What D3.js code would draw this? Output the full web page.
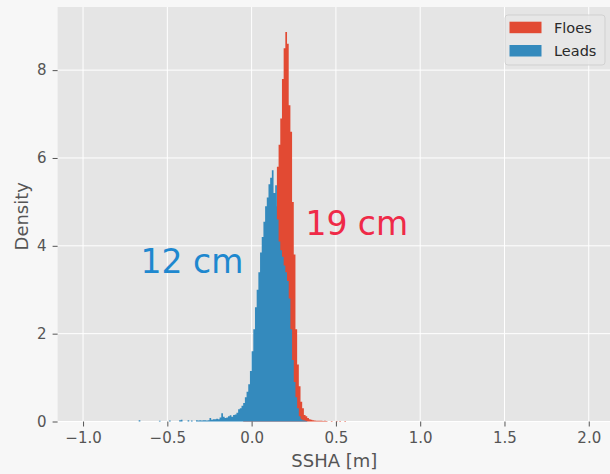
<!DOCTYPE html>
<html>
<head>
<meta charset="utf-8">
<script src="https://cdn.jsdelivr.net/npm/d3@7"></script>
<style>
  html, body { margin: 0; padding: 0; background: #f7f7f7; }
  svg { display: block; }
  text { font-family: "DejaVu Sans", sans-serif; }
</style>
</head>
<body>
<svg id="chart" width="610" height="474"></svg>
<script>
// ---- data (histogram densities, bin width 0.01 m) ----
const binWidth = 0.01;
const seriesNames = ["Floes", "Leads"];
const seriesColors = ["#E24A33", "#348ABD"];

const floesBins = [-0.05,-0.04,-0.03,-0.02,-0.01,
  0.00,0.01,0.02,0.03,0.04,0.05,0.06,0.07,0.08,0.09,
  0.10,0.11,0.12,0.13,0.14,0.15,0.16,0.17,0.18,0.19,
  0.20,0.21,0.22,0.23,0.24,0.25,0.26,0.27,0.28,0.29,
  0.30,0.31,0.32,0.33,0.34,0.35,0.36,0.37,0.38,0.39,
  0.40,0.41,0.42,0.43,0.44,0.47,0.50,0.52,0.55];
const floesDensity = [0.03,0.04,0.05,0.06,0.08,
  0.10,0.15,0.20,0.25,0.30,0.40,0.55,0.75,1.00,1.40,
  1.90,2.50,3.20,4.00,4.90,5.80,6.30,6.90,7.80,8.50,
  8.87,8.60,7.20,6.60,5.00,3.80,2.10,1.30,0.80,0.45,
  0.30,0.15,0.12,0.08,0.05,0.04,0.03,0.02,0.015,0.015,
  0.015,0.015,0.01,0.015,0.01,0.012,0.012,0.012,0.012];

const leadsBins = [-0.67,-0.55,-0.49,-0.43,-0.42,-0.38,-0.36,
  -0.33,-0.32,-0.31,-0.30,-0.29,-0.28,-0.27,-0.26,-0.25,-0.24,-0.23,-0.22,-0.21,
  -0.20,-0.19,-0.18,-0.17,-0.16,-0.15,-0.14,-0.13,-0.12,-0.11,
  -0.10,-0.09,-0.08,-0.07,-0.06,-0.05,-0.04,-0.03,-0.02,-0.01,
  0.00,0.01,0.02,0.03,0.04,0.05,0.06,0.07,0.08,0.09,
  0.10,0.11,0.12,0.13,0.14,0.15,0.16,0.17,0.18,0.19,
  0.20,0.21,0.22,0.23,0.24,0.25,0.26,0.27,0.28,0.29,
  0.30,0.31,0.32];
const leadsDensity = [0.03,0.015,0.02,0.03,0.04,0.03,0.02,
  0.03,0.02,0.03,0.02,0.03,0.03,0.02,0.03,0.08,0.04,0.05,0.05,0.06,
  0.05,0.09,0.19,0.11,0.08,0.09,0.12,0.14,0.11,0.15,
  0.16,0.20,0.28,0.30,0.36,0.42,0.55,0.68,0.85,1.15,
  1.60,2.10,2.60,3.00,3.40,3.85,4.20,4.55,4.90,5.10,
  5.40,5.55,5.72,5.20,5.38,4.60,4.10,3.90,3.75,3.55,
  3.40,3.20,2.80,2.10,1.40,0.90,0.55,0.30,0.12,0.05,
  0.03,0.02,0.01];

const xTicks = [-1.0, -0.5, 0.0, 0.5, 1.0, 1.5, 2.0];
const yTicks = [0, 2, 4, 6, 8];
const annotations = [
  {text: "12 cm", x: -0.659, y: 3.374, color: "#1e88cf"},
  {text: "19 cm", x: 0.319, y: 4.246, color: "#ef2a48"}
];

// ---- layout ----
const svg = d3.select("#chart");
const pLeft = 57.6, pRight = 611, pTop = 7, pBottom = 421.5;

const x = d3.scaleLinear().domain([-1.151, -1.151 + (pRight - pLeft) / 168.57]).range([pLeft, pRight]);
const y = d3.scaleLinear().domain([0, (pBottom - pTop) / 43.92]).range([pBottom, pTop]);

svg.append("rect").attr("width", 610).attr("height", 474).attr("fill", "#f7f7f7");
svg.append("rect").attr("x", pLeft).attr("y", pTop).attr("width", pRight - pLeft).attr("height", pBottom - pTop).attr("fill", "#E5E5E5");

// grid
const grid = svg.append("g");
grid.selectAll(".gx").data(xTicks).join("line")
  .attr("x1", d => x(d)).attr("x2", d => x(d)).attr("y1", pTop).attr("y2", pBottom)
  .attr("stroke", "#ffffff").attr("stroke-width", 1);
grid.selectAll(".gy").data(yTicks).join("line")
  .attr("x1", pLeft).attr("x2", pRight).attr("y1", d => y(d)).attr("y2", d => y(d))
  .attr("stroke", "#ffffff").attr("stroke-width", 1);

// histogram path builder
function histPath(starts, vals) {
  const p = d3.path();
  let prevEnd = null;
  starts.forEach((s, i) => {
    if (prevEnd === null || Math.abs(s - prevEnd) > 1e-6) {
      if (prevEnd !== null) { p.lineTo(x(prevEnd), y(0)); p.closePath(); }
      p.moveTo(x(s), y(0));
    }
    p.lineTo(x(s), y(vals[i]));
    p.lineTo(x(s + binWidth), y(vals[i]));
    prevEnd = s + binWidth;
  });
  p.lineTo(x(prevEnd), y(0));
  p.closePath();
  return p.toString();
}

svg.append("path").attr("d", histPath(floesBins, floesDensity)).attr("fill", seriesColors[0]);
svg.append("path").attr("d", histPath(leadsBins, leadsDensity)).attr("fill", seriesColors[1]);

// axes
const xAxis = d3.axisBottom(x).tickValues(xTicks).tickSize(5).tickPadding(6)
  .tickFormat(d => d3.format(".1f")(d).replace("-", "\u2212"));
const gx = svg.append("g").attr("transform", `translate(0,${pBottom})`).call(xAxis);
gx.select(".domain").remove();
gx.selectAll("line").attr("stroke", "#555555");
gx.selectAll("text").attr("fill", "#555555").attr("font-size", "15px").attr("font-family", "DejaVu Sans");

const yAxis = d3.axisLeft(y).tickValues(yTicks).tickSize(5).tickPadding(6).tickFormat(d3.format("d"));
const gy = svg.append("g").attr("transform", `translate(${pLeft},0)`).call(yAxis);
gy.select(".domain").remove();
gy.selectAll("line").attr("stroke", "#555555");
gy.selectAll("text").attr("fill", "#555555").attr("font-size", "15px").attr("font-family", "DejaVu Sans");

// axis labels
svg.append("text").attr("x", (pLeft + pRight) / 2).attr("y", 467)
  .attr("text-anchor", "middle").attr("fill", "#555555").attr("font-size", "18px").text("SSHA [m]");
svg.append("text").attr("transform", `translate(28,${(pTop + pBottom) / 2 + 2}) rotate(-90)`)
  .attr("text-anchor", "middle").attr("fill", "#555555").attr("font-size", "18px").text("Density");

// annotations
annotations.forEach(a => {
  svg.append("text").attr("x", x(a.x)).attr("y", y(a.y))
    .attr("fill", a.color).attr("font-size", "33px").text(a.text);
});

// legend
const lg = svg.append("g");
lg.append("rect").attr("x", 505).attr("y", 15).attr("width", 100).attr("height", 50).attr("rx", 3)
  .attr("fill", "#e8e8e8").attr("fill-opacity", 0.85).attr("stroke", "#cccccc").attr("stroke-opacity", 0.8);
seriesNames.forEach((n, i) => {
  lg.append("rect").attr("x", 509.5).attr("y", 21.7 + i * 23.3).attr("width", 32).attr("height", 11.5)
    .attr("fill", seriesColors[i]);
  lg.append("text").attr("x", 554).attr("y", 32.5 + i * 23.3).attr("fill", "#2a2a2a")
    .attr("font-size", "14.5px").text(n);
});
</script>
</body>
</html>
